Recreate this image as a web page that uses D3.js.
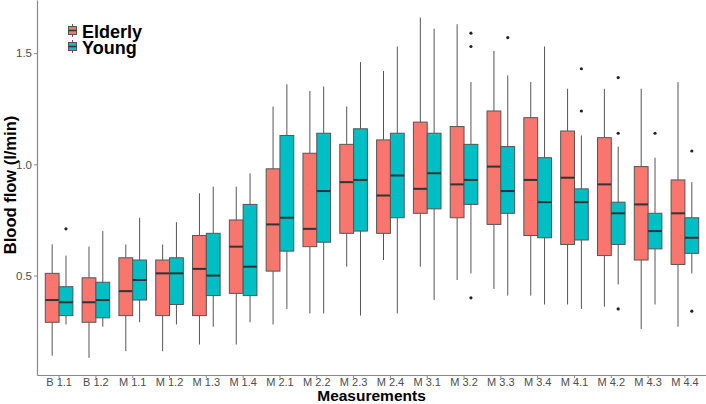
<!DOCTYPE html>
<html>
<head>
<meta charset="utf-8">
<script src="https://cdn.jsdelivr.net/npm/d3@7"></script>
<style>
  body { margin: 0; background: white; }
  text { font-family: "Liberation Sans", Arial, Helvetica, sans-serif; }
</style>
</head>
<body>
<div id="visualization"></div>
<script>
// Measurement labels on the x axis
var categories = ["B 1.1", "B 1.2", "M 1.1", "M 1.2", "M 1.3", "M 1.4", "M 2.1", "M 2.2", "M 2.3",
                  "M 2.4", "M 3.1", "M 3.2", "M 3.3", "M 3.4", "M 4.1", "M 4.2", "M 4.3", "M 4.4"];

var groups = ["Elderly", "Young"];

// [lower whisker, Q1, median, Q3, upper whisker] per measurement
var elderly = [
  [0.14, 0.29, 0.39, 0.51, 0.64],
  [0.13, 0.29, 0.38, 0.49, 0.63],
  [0.16, 0.32, 0.43, 0.58, 0.64],
  [0.16, 0.32, 0.51, 0.57, 0.64],
  [0.19, 0.32, 0.53, 0.68, 0.87],
  [0.19, 0.42, 0.63, 0.75, 0.90],
  [0.28, 0.52, 0.73, 0.98, 1.26],
  [0.33, 0.63, 0.71, 1.05, 1.33],
  [0.54, 0.69, 0.92, 1.09, 1.26],
  [0.57, 0.69, 0.86, 1.11, 1.42],
  [0.54, 0.78, 0.89, 1.19, 1.66],
  [0.48, 0.76, 0.91, 1.17, 1.63],
  [0.44, 0.73, 0.99, 1.24, 1.51],
  [0.41, 0.68, 0.93, 1.21, 1.37],
  [0.37, 0.64, 0.94, 1.15, 1.34],
  [0.36, 0.59, 0.91, 1.12, 1.34],
  [0.26, 0.57, 0.82, 0.99, 1.34],
  [0.27, 0.55, 0.78, 0.93, 1.37]
];

var young = [
  [0.28, 0.32, 0.38, 0.45, 0.59],
  [0.27, 0.31, 0.39, 0.47, 0.70],
  [0.29, 0.39, 0.48, 0.57, 0.76],
  [0.28, 0.37, 0.51, 0.58, 0.74],
  [0.27, 0.41, 0.50, 0.69, 0.90],
  [0.29, 0.41, 0.54, 0.82, 0.96],
  [0.35, 0.61, 0.76, 1.13, 1.36],
  [0.33, 0.65, 0.88, 1.14, 1.35],
  [0.32, 0.70, 0.93, 1.16, 1.46],
  [0.33, 0.76, 0.95, 1.14, 1.53],
  [0.39, 0.80, 0.96, 1.14, 1.61],
  [0.51, 0.82, 0.93, 1.09, 1.37],
  [0.41, 0.78, 0.88, 1.08, 1.40],
  [0.37, 0.67, 0.83, 1.03, 1.53],
  [0.35, 0.66, 0.83, 0.89, 1.13],
  [0.46, 0.64, 0.78, 0.83, 1.08],
  [0.37, 0.62, 0.70, 0.78, 1.03],
  [0.51, 0.60, 0.67, 0.76, 0.92]
];

// outlying points per measurement
var elderlyOutliers = [[], [], [], [], [], [], [], [], [], [], [], [], [], [], [], [], [], []];
var youngOutliers = [[0.71], [], [], [], [], [], [], [], [], [], [], [1.59, 1.53, 0.40], [1.57], [],
                     [1.43, 1.24], [1.39, 1.14, 0.35], [1.14], [1.06, 0.34]];

var colors = ["#F8766D", "#00BFC4"];

var width = 706;
var height = 404;
var margin = { top: 0, right: 0, bottom: 29, left: 37 };

var svg = d3.select("#visualization")
            .append("svg")
            .attr("width", width)
            .attr("height", height);

// Scales
var x = d3.scaleBand()
          .domain(categories)
          .range([margin.left, width + 1])
          .paddingInner(0)
          .paddingOuter(0.1);

var y = d3.scaleLinear()
          .domain([0.053, 1.739])
          .range([height - margin.bottom, margin.top]);

var sub = d3.scaleBand()
            .domain(groups)
            .range([x.bandwidth() * 0.125, x.bandwidth() * 0.875]);

// Build one row per box
var boxes = [];
categories.forEach(function(c, i) {
  [elderly, young].forEach(function(series, g) {
    var s = series[i];
    boxes.push({ cat: c, group: groups[g], color: colors[g],
                 lo: s[0], q1: s[1], med: s[2], q3: s[3], hi: s[4],
                 out: (g === 0 ? elderlyOutliers : youngOutliers)[i] });
  });
});

var boxW = sub.bandwidth();

var boxG = svg.append("g")
  .selectAll("g")
  .data(boxes)
  .join("g")
  .attr("transform", function(d) { return "translate(" + (x(d.cat) + sub(d.group)) + ",0)"; });

// whiskers
boxG.append("line")
  .attr("x1", boxW / 2).attr("x2", boxW / 2)
  .attr("y1", function(d) { return y(d.hi); })
  .attr("y2", function(d) { return y(d.q3); })
  .attr("stroke", "#555").attr("stroke-width", 1);
boxG.append("line")
  .attr("x1", boxW / 2).attr("x2", boxW / 2)
  .attr("y1", function(d) { return y(d.q1); })
  .attr("y2", function(d) { return y(d.lo); })
  .attr("stroke", "#555").attr("stroke-width", 1);

// boxes
boxG.append("rect")
  .attr("x", 0)
  .attr("width", boxW)
  .attr("y", function(d) { return y(d.q3); })
  .attr("height", function(d) { return y(d.q1) - y(d.q3); })
  .attr("fill", function(d) { return d.color; })
  .attr("stroke", "#555")
  .attr("stroke-width", 1);

// medians
boxG.append("line")
  .attr("x1", 0).attr("x2", boxW)
  .attr("y1", function(d) { return y(d.med); })
  .attr("y2", function(d) { return y(d.med); })
  .attr("stroke", "#333").attr("stroke-width", 2);

// outliers
boxG.selectAll("circle")
  .data(function(d) { return d.out; })
  .join("circle")
  .attr("cx", boxW / 2)
  .attr("cy", function(v) { return y(v); })
  .attr("r", 1.6)
  .attr("fill", "#222");

// Axes
var xAxis = svg.append("g")
  .attr("transform", "translate(0," + (height - margin.bottom) + ")")
  .call(d3.axisBottom(x).tickSize(3).tickPadding(0).tickSizeOuter(0));

var yAxis = svg.append("g")
  .attr("transform", "translate(" + margin.left + ",0)")
  .call(d3.axisLeft(y).tickValues([0.5, 1.0, 1.5]).tickFormat(d3.format(".1f"))
          .tickSize(3).tickPadding(2).tickSizeOuter(0));

[xAxis, yAxis].forEach(function(a) {
  a.select(".domain").attr("stroke", "#888").attr("stroke-width", 1.2);
  a.selectAll(".tick line").attr("stroke", "#888");
  a.selectAll(".tick text").attr("fill", "#4d4d4d").style("font-size", "11.5px");
});
xAxis.selectAll(".tick text").style("font-size", "11px");

// Axis titles
svg.append("text")
  .attr("x", (margin.left + width) / 2)
  .attr("y", 400.6)
  .attr("text-anchor", "middle")
  .style("font-size", "15.5px")
  .style("font-weight", "bold")
  .attr("fill", "black")
  .text("Measurements");

svg.append("text")
  .attr("transform", "rotate(-90)")
  .attr("x", -185)
  .attr("y", 16)
  .attr("text-anchor", "middle")
  .style("font-size", "16.5px")
  .style("font-weight", "bold")
  .attr("fill", "black")
  .text("Blood flow (l/min)");

// Legend inside the plot
var legend = svg.append("g")
  .selectAll("g")
  .data(groups)
  .join("g")
  .attr("transform", function(d, i) { return "translate(68," + (23 + i * 16) + ")"; });

legend.append("line")
  .attr("x1", 4.5).attr("x2", 4.5).attr("y1", 1).attr("y2", 14)
  .attr("stroke", "#555");
legend.append("rect")
  .attr("x", 0.5).attr("y", 3.5).attr("width", 8).attr("height", 8)
  .attr("fill", function(d, i) { return colors[i]; })
  .attr("stroke", "#555");
legend.append("line")
  .attr("x1", 0.5).attr("x2", 8.5).attr("y1", 7.5).attr("y2", 7.5)
  .attr("stroke", "#333").attr("stroke-width", 1.5);
legend.append("text")
  .attr("x", 14)
  .attr("y", 14.5)
  .style("font-size", "18px")
  .style("font-weight", "bold")
  .attr("fill", "black")
  .text(function(d) { return d; });
</script>
</body>
</html>
